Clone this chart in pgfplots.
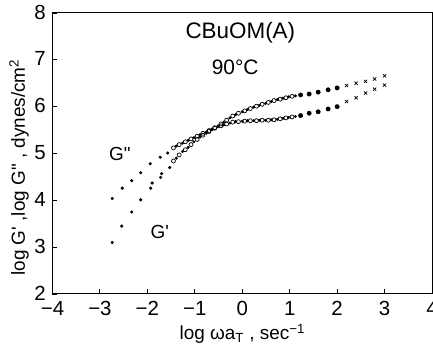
\documentclass[border=0pt]{standalone}
\usepackage{fontspec}
\setmainfont{Liberation Sans}
\usepackage{pgfplots}
\pgfplotsset{compat=1.18}
\begin{document}
\begin{tikzpicture}
\begin{axis}[
  scale only axis,
  width=379.5bp, height=281bp,
  xmin=-4, xmax=4, ymin=2, ymax=8,
  xtick={-4,-3,-2,-1,0,1,2,3,4},
  xticklabels={−4,−3,−2,−1,0,1,2,3,4},
  ytick={2,3,4,5,6,7,8},
  yticklabels={2,3,4,5,6,7,8},
  tick pos=left,
  tick align=inside,
  major tick length=5bp,
  axis line style={line width=1pt},
  tick style={line width=0.9pt, black},
  ticklabel style={font=\fontsize{20.5}{22}\selectfont, inner sep=0.5bp},
  xticklabel style={yshift=-7bp},
  yticklabel style={xshift=-6bp, yshift=1bp},
  xlabel={log ωa\textsubscript{T} , sec\textsuperscript{−1}},
  ylabel={log G\textquotesingle{} ,log G\textquotedbl{} , dynes/cm\textsuperscript{2}},
  label style={font=\fontsize{19}{21}\selectfont},
  xlabel style={at={(axis description cs:0.5,0)}, anchor=center, yshift=-40bp},
  ylabel style={at={(axis description cs:-0.088,0.45)}, anchor=center},
  clip=false,
]
% G' low frequency (filled dots)
\addplot[only marks, mark=*, mark size=1.4pt, black] coordinates {
(-2.74,3.10)(-2.54,3.45)(-2.33,3.75)(-2.14,4.01)(-1.93,4.26)(-1.90,4.37)(-1.72,4.49)(-1.70,4.57)(-1.53,4.70)
};
% G'' low frequency (filled dots)
\addplot[only marks, mark=*, mark size=1.4pt, black] coordinates {
(-2.74,4.04)(-2.53,4.26)(-2.33,4.42)(-2.14,4.59)(-1.94,4.78)(-1.73,4.92)(-1.57,5.01)
};
% G' middle (open circles)
\addplot[only marks, mark=o, mark size=2pt, black, line width=0.7pt] coordinates {
(-1.45,4.84)(-1.33,4.97)(-1.20,5.08)(-1.08,5.19)(-0.95,5.30)(-0.83,5.39)(-0.70,5.47)(-0.58,5.55)(-0.45,5.63)(-0.33,5.71)(-0.20,5.80)(-0.08,5.86)(0.05,5.91)(0.17,5.96)(0.30,6.01)(0.42,6.05)(0.55,6.09)(0.67,6.13)(0.80,6.16)(0.92,6.19)(1.05,6.22)
};
% G' middle (small dots)
\addplot[only marks, mark=*, mark size=1.3pt, black] coordinates {
(-1.39,4.90)(-1.26,5.04)(-1.14,5.13)(-1.02,5.25)(-0.89,5.35)(-0.76,5.43)(-0.64,5.51)(-0.51,5.59)(-0.39,5.67)(-0.26,5.76)(-0.14,5.83)(0.0,5.89)(0.11,5.94)(0.24,5.99)(0.36,6.03)(0.49,6.07)(0.61,6.11)(0.74,6.15)(0.86,6.18)(0.98,6.21)(1.12,6.23)
};
% G'' middle (open circles)
\addplot[only marks, mark=o, mark size=2pt, black, line width=0.7pt] coordinates {
(-1.45,5.12)(-1.33,5.19)(-1.20,5.25)(-1.08,5.31)(-0.95,5.37)(-0.83,5.43)(-0.70,5.49)(-0.58,5.54)(-0.45,5.59)(-0.33,5.63)(-0.20,5.67)(-0.08,5.68)(0.05,5.69)(0.17,5.70)(0.30,5.70)(0.42,5.71)(0.55,5.71)(0.67,5.72)(0.80,5.74)(0.92,5.76)(1.05,5.78)
};
% G'' middle (small dots)
\addplot[only marks, mark=*, mark size=1.3pt, black] coordinates {
(-1.39,5.16)(-1.26,5.22)(-1.14,5.28)(-1.02,5.34)(-0.89,5.40)(-0.76,5.46)(-0.64,5.52)(-0.51,5.57)(-0.39,5.61)(-0.26,5.65)(-0.14,5.68)(0.0,5.69)(0.11,5.70)(0.24,5.70)(0.36,5.71)(0.49,5.71)(0.61,5.72)(0.74,5.73)(0.86,5.75)(0.98,5.77)(1.12,5.79)
};
% G' high frequency (bold dots)
\addplot[only marks, mark=*, mark size=2.2pt, black] coordinates {
(1.23,6.25)(1.41,6.27)(1.60,6.31)(1.81,6.36)(2.00,6.40)
};
% G'' high frequency (bold dots)
\addplot[only marks, mark=*, mark size=2.2pt, black] coordinates {
(1.23,5.81)(1.41,5.86)(1.60,5.89)(1.81,5.95)(2.00,6.00)
};
% G' crosses
\addplot[only marks, mark=x, mark size=2.3pt, black, line width=0.7pt] coordinates {
(2.20,6.45)(2.40,6.50)(2.60,6.54)(2.79,6.59)(3.00,6.66)
};
% G'' crosses
\addplot[only marks, mark=x, mark size=2.3pt, black, line width=0.7pt] coordinates {
(2.20,6.11)(2.40,6.19)(2.60,6.29)(2.79,6.37)(3.00,6.46)
};
\node[font=\fontsize{22.5}{24}\selectfont] at (axis cs:-0.04,7.58) {CBuOM(A)};
\node[font=\fontsize{21}{23}\selectfont] at (axis cs:-0.15,6.83) {90°C};
\node[font=\fontsize{19}{21}\selectfont] at (axis cs:-2.58,5.0) {G\textquotedbl};
\node[font=\fontsize{19}{21}\selectfont] at (axis cs:-1.74,3.32) {G\textquotesingle};
\end{axis}
\pgfresetboundingbox
\path ([xshift=-52.5bp,yshift=-52bp]current axis.south west) rectangle ([xshift=1bp,yshift=13bp]current axis.north east);
\end{tikzpicture}
\end{document}
